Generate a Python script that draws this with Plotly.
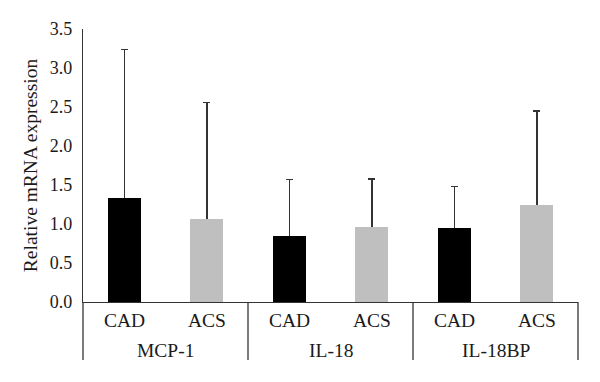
import plotly.graph_objects as go

genes = ["MCP-1", "IL-18", "IL-18BP"]
groups = ["CAD", "ACS"]
means_cad = [1.33, 0.85, 0.95]
means_acs = [1.06, 0.96, 1.25]
sd_cad = [1.91, 0.72, 0.53]
sd_acs = [1.50, 0.62, 1.20]
colors = {"CAD": "#000000", "ACS": "#bfbfbf"}
yticks = [0.0, 0.5, 1.0, 1.5, 2.0, 2.5, 3.0, 3.5]

x, y, err, cols, labels = [], [], [], [], []
for i, g in enumerate(genes):
    for j, grp in enumerate(groups):
        x.append(i * len(groups) + j)
        y.append(means_cad[i] if grp == "CAD" else means_acs[i])
        err.append(sd_cad[i] if grp == "CAD" else sd_acs[i])
        cols.append(colors[grp])
        labels.append(grp)

FONT = "Liberation Serif"
TXT = "#1a1a1a"
fig = go.Figure()
# bars carrying the error bars (upward only)
fig.add_trace(go.Bar(
    x=x, y=y, width=0.4, marker=dict(color=cols, line=dict(width=0)),
    error_y=dict(type="data", array=err, arrayminus=[0.05] * len(err), symmetric=False,
                 color="#333333", thickness=1.5, width=3.5),
))
# identical bars on top, hiding the lower cap
fig.add_trace(go.Bar(
    x=x, y=y, width=0.4, marker=dict(color=cols, line=dict(width=0)),
))

n = len(x)
shapes = []
for k in range(len(genes) + 1):
    shapes.append(dict(type="line", xref="paper", yref="paper",
                       x0=k / len(genes), x1=k / len(genes), y0=0, y1=-0.2125,
                       line=dict(color="#333333", width=1.3)))
annotations = []
for xi, lab in zip(x, labels):
    annotations.append(dict(text=lab, xref="x", yref="paper", x=xi, xanchor="center",
                            y=-0.066, yanchor="middle", showarrow=False,
                            font=dict(family=FONT, size=19.5, color=TXT)))
for i, g in enumerate(genes):
    annotations.append(dict(text=g, xref="paper", yref="paper", x=(i + 0.5) / len(genes),
                            xanchor="center", y=-0.176, yanchor="middle", showarrow=False,
                            font=dict(family=FONT, size=19.5, color=TXT)))

fig.update_layout(
    width=592, height=374,
    margin=dict(l=75, r=22, t=21, b=80),
    plot_bgcolor="white", paper_bgcolor="white",
    showlegend=False, bargap=0, barmode="overlay",
    font=dict(family=FONT, size=18, color=TXT),
    xaxis=dict(range=[-0.5, n - 0.5], tickvals=x, showticklabels=False, showgrid=False,
               zeroline=False, showline=True, linecolor="#333333", linewidth=1.3,
               ticks=""),
    yaxis=dict(range=[0, 3.5], tickvals=yticks, ticktext=[f"{v:.1f}" for v in yticks],
               showgrid=False, zeroline=False, showline=True, linecolor="#333333",
               linewidth=1.3, ticks="", ticklabelstandoff=6,
               tickfont=dict(family=FONT, size=18, color=TXT),
               title=dict(text="Relative mRNA expression", standoff=6,
                          font=dict(family=FONT, size=19.5, color=TXT))),
    shapes=shapes, annotations=annotations,
)
fig.write_html("out.html")
